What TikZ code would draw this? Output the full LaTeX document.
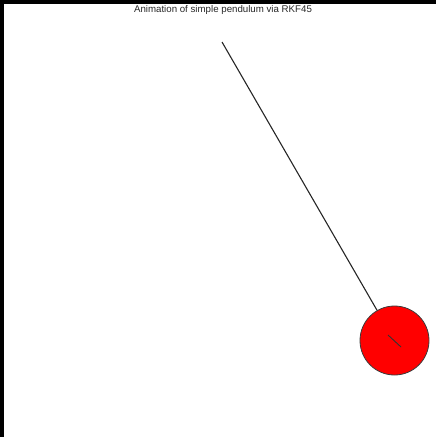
\documentclass[tikz,border=0pt]{standalone}
\usepackage{fontspec}
\setmainfont{Liberation Sans}
\usetikzlibrary{positioning}
\definecolor{bobred}{RGB}{255, 0, 0}
\definecolor{rimgray}{RGB}{60, 60, 60}

\begin{document}
\begin{tikzpicture}[x=1pt, y=-1pt, font=\fontsize{9.7}{11}\selectfont]
        \useasboundingbox (0,0) rectangle (436,437);
        \fill[black] (0,0) rectangle (436,4);
        \fill[black] (0,0) rectangle (4,437);
        \node[inner sep=0pt, anchor=north, text=black!85] (title) at (223,5) {Animation of simple pendulum via RKF45};
        \coordinate (pivot) at (222,42);
        \node[circle, fill=bobred, draw=rimgray, line width=0.8pt, minimum size=69pt, inner sep=0pt] (bob) at (394.5,340.5) {};
        \draw[line width=1.1pt, black!85] (pivot) -- (bob);
        \coordinate (tailA) at (388,335);
        \coordinate (tailB) at (401,347);
        \draw[line width=0.9pt, black!80] (tailA) -- (tailB);
    \end{tikzpicture}
\end{document}
